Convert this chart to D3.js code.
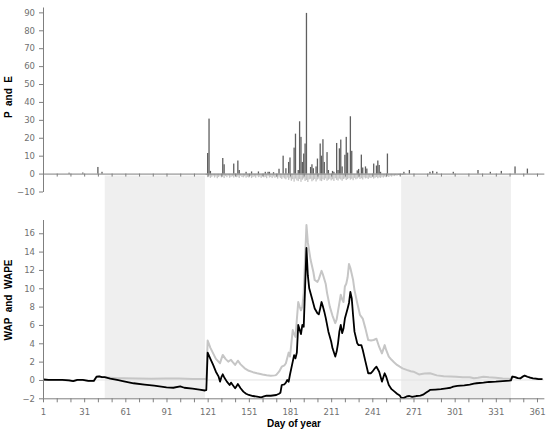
<!DOCTYPE html>
<html><head><meta charset="utf-8">
<script src="https://cdn.jsdelivr.net/npm/d3@7"></script>
<style>
html,body{margin:0;padding:0;background:#fff;}
svg{display:block;}
text{font-family:"DejaVu Sans",Verdana,sans-serif;}
</style></head>
<body>
<svg id="c" width="550" height="438"></svg>
<script>
// ---- data ----
const bands = [[46,119],[262,342]];
const pTicks = [-10,0,10,20,30,40,50,60,70,80,90];
const wTicks = [-2,0,2,4,6,8,10,12,14,16];
const dayTicks = [1,11,21,31,41,51,61,71,81,91,101,111,121,131,141,151,161,171,181,191,201,211,221,231,241,251,261,271,281,291,301,311,321,331,341,351,361];
const dayLabels = [1,31,61,91,121,151,181,211,241,271,301,331,361];

// P: precipitation [day, mm]
const P = [[20,0.5],[30,0.6],[41,3.7],[44,1.0],[121,11.5],[122,30.7],[123,1.5],[132,8.7],[133,5.2],[140,5.6],[143,7.3],[144,2.0],[149,1.0],[153,1.2],[158,1.2],[163,1.0],[165,1.0],[166,1.0],[169,0.8],[173,2.7],[176,10.0],[178,3.0],[180,6.5],[181,9.0],[184,14.5],[185,22.3],[187,2.0],[188,29.2],[189,20.5],[190,6.5],[191,11.2],[192,16.8],[193,89.7],[196,3.7],[197,5.2],[198,3.0],[200,4.0],[201,8.4],[203,16.8],[204,10.0],[205,19.2],[206,6.5],[208,12.0],[209,2.0],[212,1.5],[213,1.0],[215,17.1],[216,2.0],[217,14.1],[218,19.0],[219,4.0],[221,10.5],[222,20.5],[223,11.7],[225,32.0],[226,12.7],[230,1.8],[231,2.6],[233,10.6],[234,3.4],[236,4.0],[237,2.8],[242,5.6],[244,4.5],[245,7.3],[246,4.8],[247,1.0],[252,11.2],[264,1.0],[268,2.0],[283,1.0],[285,1.5],[288,1.0],[300,1.0],[318,2.0],[327,1.0],[335,1.5],[345,4.0],[354,2.8]];

// E: evaporation, days 120..265
const eStartDay = 120;
const E = [-0.8,-2.0,-1.5,-2.4,-1.8,-1.2,-2.2,-1.6,-2.6,-1.9,
-1.3,-2.1,-1.7,-2.5,-1.4,-2.0,-1.1,-2.3,-1.8,-1.5,
-2.2,-1.3,-2.0,-1.7,-2.4,-1.2,-1.9,-2.1,-1.5,-2.3,
-1.8,-2.2,-1.4,-2.5,-1.9,-1.6,-2.3,-1.2,-2.0,-1.7,
-2.4,-1.5,-2.1,-1.8,-2.6,-1.3,-2.2,-1.9,-2.5,-1.6,
-2.3,-2.0,-2.8,-1.7,-2.4,-3.0,-2.1,-2.7,-3.2,-2.2,
-3.5,-2.6,-4.0,-3.1,-4.5,-2.8,-3.8,-4.2,-3.0,-4.6,
-3.4,-2.7,-4.1,-3.6,-4.7,-3.2,-2.9,-4.3,-3.7,-3.0,
-4.4,-3.3,-2.8,-3.9,-4.2,-3.1,-3.6,-2.7,-4.0,-3.4,
-2.9,-3.8,-3.2,-4.1,-2.6,-3.5,-3.9,-2.8,-3.3,-4.0,
-3.0,-2.7,-3.6,-3.1,-2.5,-3.4,-2.9,-3.7,-2.4,-3.2,
-2.8,-2.2,-3.0,-2.6,-3.3,-2.1,-2.7,-2.4,-3.0,-2.2,
-2.5,-2.0,-2.8,-2.3,-1.9,-2.6,-2.1,-2.4,-1.8,-2.2,
-1.6,-2.0,-1.5,-1.9,-1.3,-1.7,-1.2,-1.4,-1.0,-1.2,
-0.8,-1.0,-0.6,-0.8,-0.5,-0.4];

// WAP (black)
const WAP = [[1,0.05],[5,0.0],[10,0.0],[15,0.0],[20,-0.05],[23,-0.12],[26,0.0],[30,0.0],[34,-0.1],[38,-0.1],[40,0.35],[42,0.38],[44,0.3],[46,0.32],[50,0.15],[55,0.0],[60,-0.15],[67,-0.36],[75,-0.5],[82,-0.62],[91,-0.8],[96,-0.85],[101,-0.7],[104,-0.85],[110,-0.95],[115,-1.05],[119,-1.15],[120,-1.1],[121,2.98],[123,2.3],[125,1.64],[127,0.9],[129,0.36],[130,-0.18],[131,0.3],[132,0.62],[133,0.3],[135,-0.18],[137,-0.55],[138,-0.29],[139,-0.5],[141,-0.9],[142,-0.7],[143,-0.44],[145,-0.9],[147,-1.27],[149,-1.5],[151,-1.64],[154,-1.75],[157,-1.82],[160,-1.9],[162,-1.8],[164,-1.7],[167,-1.72],[171,-1.64],[173,-1.5],[174,-1.4],[175,-0.55],[177,-0.47],[178,-0.3],[179,0.0],[180,-0.2],[181,0.6],[183,2.0],[184,2.7],[185,2.36],[186,3.0],[187,6.0],[188,5.5],[189,5.0],[190,6.0],[191,5.8],[193,14.4],[194,11.4],[195,10.0],[197,8.9],[199,7.8],[201,7.27],[202,7.15],[203,7.8],[204,8.5],[205,8.0],[206,7.45],[207,6.8],[209,5.27],[211,4.2],[212,3.45],[214,2.55],[215,3.1],[216,4.0],[217,5.3],[218,6.0],[219,5.1],[220,5.6],[221,6.7],[223,7.8],[224,8.4],[225,9.6],[226,8.9],[227,7.0],[228,5.27],[230,4.0],[231,3.8],[233,3.8],[234,3.3],[236,2.0],[238,0.73],[240,0.73],[241,0.9],[243,1.3],[244,1.45],[246,0.9],[248,-0.18],[250,0.73],[251,0.4],[253,-0.55],[255,-1.0],[257,-1.25],[259,-1.5],[261,-1.7],[262,-1.93],[264,-1.95],[266,-1.8],[268,-1.75],[270,-1.85],[273,-1.75],[276,-1.7],[278,-1.6],[280,-1.4],[282,-1.2],[283,-1.09],[287,-1.05],[291,-1.0],[295,-0.91],[298,-0.85],[300,-0.72],[303,-0.65],[308,-0.58],[312,-0.5],[315,-0.4],[317,-0.36],[322,-0.3],[326,-0.22],[331,-0.18],[336,-0.12],[341,-0.07],[342,-0.05],[343,0.36],[345,0.3],[347,0.2],[349,0.18],[351,0.4],[352,0.47],[354,0.35],[356,0.25],[358,0.18],[360,0.15],[362,0.1],[365,0.1]];

// WAPE (light gray)
const WAPE = [[1,0.05],[5,0.0],[10,0.0],[15,0.0],[20,-0.05],[23,-0.12],[26,0.0],[30,0.0],[34,-0.1],[38,-0.1],[40,0.35],[42,0.38],[44,0.3],[46,0.3],[50,0.25],[55,0.2],[60,0.18],[70,0.15],[80,0.12],[90,0.15],[100,0.15],[110,0.1],[119,0.1],[120,0.1],[121,4.3],[123,3.5],[125,2.9],[127,2.3],[130,1.82],[131,2.3],[132,2.73],[134,2.3],[136,2.0],[138,2.2],[139,2.0],[141,1.64],[143,2.1],[145,1.7],[148,1.27],[151,1.0],[154,0.85],[157,0.73],[161,0.6],[164,0.52],[167,0.47],[170,0.5],[171,0.55],[173,0.9],[175,1.45],[177,1.6],[178,1.82],[179,2.4],[180,2.98],[181,2.55],[182,4.0],[183,5.45],[184,5.0],[185,4.7],[187,8.5],[188,8.0],[189,7.6],[190,8.0],[191,9.5],[193,16.9],[194,15.0],[196,13.1],[198,11.8],[199,10.9],[201,10.7],[202,11.0],[204,11.9],[205,11.5],[207,10.5],[208,9.5],[210,8.0],[212,7.0],[214,6.2],[215,6.6],[216,7.5],[218,9.3],[219,8.8],[220,8.5],[221,10.2],[222,10.5],[223,11.2],[224,12.65],[225,12.2],[227,10.9],[228,9.8],[230,8.4],[232,7.1],[234,6.7],[236,5.6],[238,4.36],[240,4.3],[242,4.36],[244,4.5],[246,3.6],[248,2.9],[250,3.8],[251,3.3],[253,2.55],[255,2.2],[257,1.9],[259,1.64],[261,1.45],[263,1.27],[266,1.1],[269,0.95],[271,0.9],[275,0.6],[279,0.7],[283,0.73],[288,0.5],[293,0.4],[298,0.38],[302,0.36],[307,0.3],[312,0.29],[315,0.18],[318,0.25],[322,0.36],[326,0.3],[331,0.25],[336,0.15],[340,0.12],[342,0.1],[343,0.4],[345,0.32],[347,0.22],[349,0.2],[351,0.4],[352,0.47],[354,0.36],[356,0.26],[358,0.2],[360,0.16],[362,0.12],[365,0.1]];

// ---- drawing ----
const svg = d3.select("#c");
svg.append("rect").attr("width",550).attr("height",438).attr("fill","#fff");

const x = d3.scaleLinear().domain([1,366]).range([43,43+365*1.3722]);
const yP = d3.scaleLinear().domain([-10,93]).range([191.5,7]);
const yW = d3.scaleLinear().domain([-2,17.5]).range([398.3,219.5]);
const axisCol = "#7f7f7f";
const tickTextCol = "#707070";

// shaded bands
svg.append("g").selectAll("rect").data(bands).join("rect")
  .attr("x",d=>x(d[0])).attr("width",d=>x(d[1])-x(d[0]))
  .attr("y",yP(0)+2).attr("height",yW(-2)-yP(0)-2)
  .attr("fill","#efefef");

// zero line bottom panel
svg.append("line").attr("x1",x(1)).attr("x2",x(366)).attr("y1",yW(0)).attr("y2",yW(0))
  .attr("stroke","#e3e3e3").attr("stroke-width",1);

// E bars
const bw = 1.3;
svg.append("g").selectAll("rect").data(E.map((v,i)=>[eStartDay+i,v])).join("rect")
  .attr("x",d=>x(d[0])-bw/2).attr("width",bw)
  .attr("y",yP(0)).attr("height",d=>yP(d[1])-yP(0))
  .attr("fill","#c4c4c4");

// P bars
svg.append("g").selectAll("rect").data(P).join("rect")
  .attr("x",d=>x(d[0])-bw/2).attr("width",bw)
  .attr("y",d=>yP(d[1])).attr("height",d=>yP(0)-yP(d[1]))
  .attr("fill","#5f5f5f");

// lines
const line = d3.line().x(d=>x(d[0])).y(d=>yW(d[1]));
svg.append("path").datum(WAPE).attr("d",line).attr("fill","none")
  .attr("stroke","#c6c6c6").attr("stroke-width",2).attr("stroke-linejoin","round");
svg.append("path").datum(WAP).attr("d",line).attr("fill","none")
  .attr("stroke","#000").attr("stroke-width",1.8).attr("stroke-linejoin","round");

function styleAxis(g){
  g.selectAll(".domain").attr("stroke",axisCol);
  g.selectAll(".tick line").attr("stroke",axisCol);
  g.selectAll(".tick text").attr("fill",tickTextCol).style("font-family","'DejaVu Sans',Verdana,sans-serif").style("font-size","8.5px");
}

// top y axis
svg.append("g").attr("transform",`translate(${x(1)},0)`)
  .call(d3.axisLeft(yP).tickValues(pTicks).tickSize(4).tickSizeOuter(0).tickPadding(4).tickFormat(d=>d<0?"\u2212"+Math.abs(d):d))
  .call(styleAxis);
// top x axis at 0
svg.append("g").attr("transform",`translate(0,${yP(0)})`)
  .call(d3.axisBottom(x).tickValues(dayTicks).tickSize(3).tickSizeOuter(0).tickFormat(""))
  .call(styleAxis);

// bottom y axis
svg.append("g").attr("transform",`translate(${x(1)},0)`)
  .call(d3.axisLeft(yW).tickValues(wTicks).tickSize(4).tickSizeOuter(0).tickPadding(4).tickFormat(d=>d<0?"\u2212"+Math.abs(d):d))
  .call(styleAxis);
// bottom x axis
svg.append("g").attr("transform",`translate(0,${yW(-2)})`)
  .call(d3.axisBottom(x).tickValues(dayTicks).tickSize(4).tickSizeOuter(0).tickPadding(7)
    .tickFormat(d=>dayLabels.includes(d)?d:""))
  .call(styleAxis);

// titles
svg.append("text").attr("transform","translate(12,97) rotate(-90)")
  .attr("text-anchor","middle").style("font-family","'Liberation Sans',Arial,sans-serif")
  .style("font-weight","bold").style("font-size","10px").style("white-space","pre")
  .text("P  and  E");
svg.append("text").attr("transform","translate(12,300) rotate(-90)")
  .attr("text-anchor","middle").style("font-family","'Liberation Sans',Arial,sans-serif")
  .style("font-weight","bold").style("font-size","10px").style("white-space","pre")
  .text("WAP  and  WAPE");
svg.append("text").attr("x",294).attr("y",427)
  .attr("text-anchor","middle").style("font-family","'Liberation Sans',Arial,sans-serif")
  .style("font-weight","bold").style("font-size","10px")
  .text("Day of year");
</script>
</body></html>
